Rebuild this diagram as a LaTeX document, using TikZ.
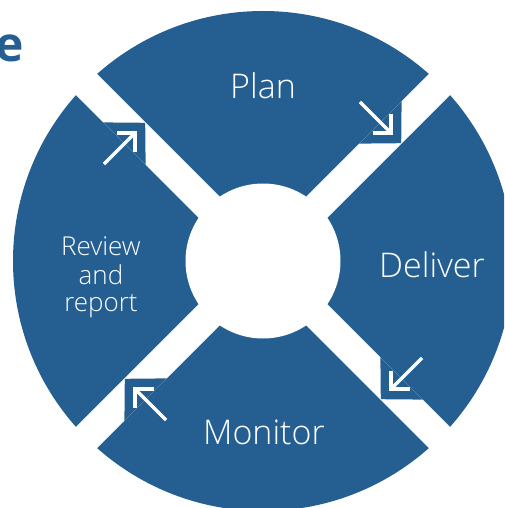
\documentclass[tikz,border=0pt]{standalone}
\usepackage{fontspec}
\setmainfont{Open Sans}
\newfontfamily\lightfont{Open Sans Light}
\definecolor{segblue}{RGB}{37,95,145}
\begin{document}
\begin{tikzpicture}[x=1pt,y=-1pt,
  seg/.style={fill=segblue},
  gap/.style={fill=white},
  lbl/.style={text=white, inner sep=0pt, anchor=base},
  biglbl/.style={lbl, font=\lightfont\fontsize{34}{40}\selectfont},
  smalllbl/.style={lbl, font=\lightfont\fontsize{26}{29}\selectfont},
  cyclearrow/.style={draw=white, line width=3.3pt, line join=miter},
]
\useasboundingbox (0,0) rectangle (504,508);
\clip (0,0) rectangle (504,508);
\fill[white] (0,0) rectangle (504,508);
% disk
\fill[seg] (263,261) circle[radius=250];
% diagonal gaps
\foreach \a in {45,-45}
  \fill[gap, shift={(263,261)}, rotate=\a] (-270,-15) rectangle (270,15);
\fill[gap] (263,261) circle[radius=77.5];
% tabs and arrows
\foreach \k in {0,1,2,3}{
  \begin{scope}[shift={(263,261)}, rotate=-90*\k]
    \fill[seg] (96.17,-117.38) -- (138.59,-159.81) -- (138.2,-117.8) -- cycle;
    \coordinate (s\k) at (96.87,-159.1);
    \coordinate (t\k) at (127.99,-127.99);
    \coordinate (h\k a) at (109.5,-127.99);
    \coordinate (h\k b) at (127.99,-146.5);
    \draw[cyclearrow] (s\k) -- (t\k);
    \draw[cyclearrow] (h\k a) -- (t\k) -- (h\k b);
  \end{scope}
}
% labels
\node[biglbl] (plan) at (263,99) {Plan};
\node[biglbl] (deliver) at (432,277) {Deliver};
\node[biglbl] (monitor) at (264,444) {Monitor};
\node[smalllbl] (review) at (101,255) {Review};
\node[smalllbl] (and) at (101,284) {and};
\node[smalllbl] (report) at (101,311) {report};
% clipped title fragment
\node[text=segblue, inner sep=0pt, anchor=base east, font=\bfseries\fontsize{48}{56}\selectfont] (title) at (24,62) {e};
\end{tikzpicture}
\end{document}
